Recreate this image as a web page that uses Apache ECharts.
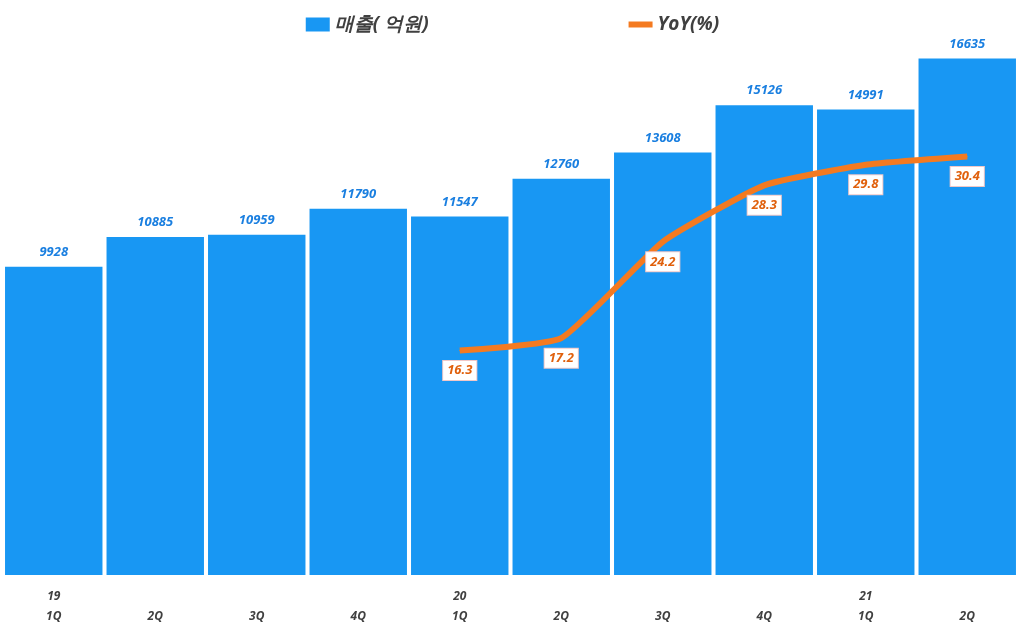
<!DOCTYPE html>
<html><head><meta charset="utf-8">
<script src="https://cdn.jsdelivr.net/npm/echarts@6/dist/echarts.min.js"></script>
<style>html,body{margin:0;padding:0;background:#fff}#c{width:1025px;height:627px}</style>
</head><body><div id="c"></div>
<script>
const categories = ['19\n1Q', '\n2Q', '\n3Q', '\n4Q', '20\n1Q', '\n2Q', '\n3Q', '\n4Q', '21\n1Q', '\n2Q'];
const sales = [9928, 10885, 10959, 11790, 11547, 12760, 13608, 15126, 14991, 16635];
const yoy = [null, null, null, null, 16.3, 17.2, 24.2, 28.3, 29.8, 30.4];

const chart = echarts.init(document.getElementById('c'));
const font = { fontStyle: 'italic', fontWeight: 'bold', fontFamily: 'Open Sans, sans-serif' };

chart.setOption({
  animation: false,
  legend: {
    top: 10, left: 'center', itemGap: 200, itemWidth: 24, itemHeight: 14,
    textStyle: Object.assign({ fontSize: 19, color: '#404040' }, font),
    data: [
      { name: '매출( 억원)', icon: 'rect' },
      { name: 'YoY(%)', icon: 'path://M0,0 L24,0 L24,6 L0,6 Z' }
    ]
  },
  grid: { left: 3, right: 7, top: 16, bottom: 49 },
  xAxis: {
    type: 'category', data: categories,
    axisLine: { show: false }, axisTick: { show: false },
    axisLabel: Object.assign({ fontSize: 12, color: '#404040', lineHeight: 20, margin: 12 }, font)
  },
  yAxis: [
    { type: 'value', min: 0, max: 18000, show: false, splitLine: { show: false } },
    { type: 'value', min: 0, max: 40.6, show: false, splitLine: { show: false } }
  ],
  series: [
    {
      name: '매출( 억원)', type: 'bar', data: sales, barCategoryGap: '4%',
      itemStyle: { color: '#1897f3' },
      label: Object.assign({ show: true, position: 'top', color: '#1a7fe0', fontSize: 13, distance: 8 }, font)
    },
    {
      name: 'YoY(%)', type: 'line', yAxisIndex: 1, data: yoy, smooth: 0.15,
      symbol: 'circle', symbolSize: 1, lineStyle: { color: '#f47a20', width: 6 }, itemStyle: { color: '#f47a20' },
      label: Object.assign({
        show: true, position: 'bottom', distance: 10, color: '#e0600c', fontSize: 13,
        backgroundColor: '#fff', borderColor: '#f0c8c8', borderWidth: 1, padding: [3, 4]
      }, font)
    }
  ]
});
</script></body></html>
